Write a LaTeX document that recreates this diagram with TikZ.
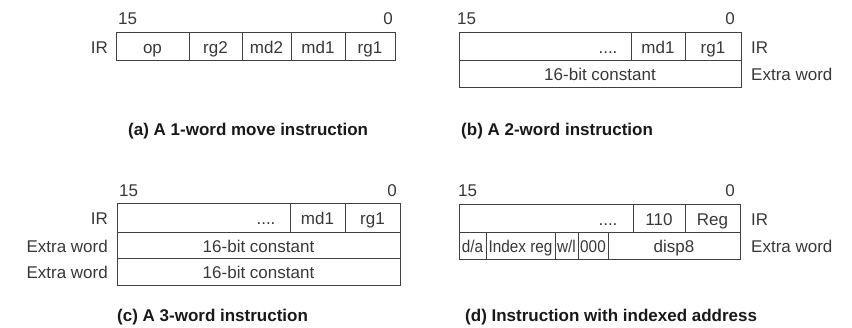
\documentclass[tikz,border=0pt]{standalone}
\usepackage{fontspec}
\setmainfont{Liberation Sans}
\definecolor{textgray}{gray}{0.22}
\definecolor{linegray}{gray}{0.25}
\newcommand\lblfont{\fontsize{17}{20}\selectfont}
\newcommand\capfont{\fontsize{17}{20}\selectfont\bfseries}
\newcommand\cellbox[6]{\node[cell,minimum width={#4-#2},minimum height={#5-#3}] (#1) at ({(#2+#4)/2},{(#3+#5)/2}) {#6};}
\newcommand\narrow[1]{\scalebox{0.9}[1]{#1}}
\begin{document}
\begin{tikzpicture}[x=1pt,y=-1pt,
  cell/.style={draw=linegray, line width=0.9pt, inner sep=0pt, text=textgray, font=\lblfont, text height=14pt, text depth=0pt},
  lab/.style={inner sep=0pt, text=textgray, font=\lblfont, anchor=base},
  captext/.style={inner sep=0pt, text=black!90, font=\capfont, anchor=base west}]
\useasboundingbox (0,0) rectangle (852,327);
% (a)
\cellbox{aop}{116}{32}{189}{60}{op}
\cellbox{arg2}{189}{32}{242}{60}{rg2}
\cellbox{amd2}{242}{32}{291}{60}{md2}
\cellbox{amd1}{291}{32}{345}{60}{md1}
\cellbox{arg1}{345}{32}{395}{60}{rg1}
\node[lab,anchor=base east] (air) at (108,53) {IR};
\node[lab,anchor=base west] (a15) at (118,24.5) {15};
\node[lab,anchor=base east] (a0) at (393,24.5) {0};
\node[captext] (acap) at (128,135) {(a) A 1-word move instruction};
% (b)
\cellbox{bfill}{459}{32}{631}{60}{}
\cellbox{bmd1}{631}{32}{685}{60}{md1}
\cellbox{brg1}{685}{32}{741}{60}{rg1}
\cellbox{bconst}{459}{60}{741}{87}{16-bit constant}
\node[lab] (bdots) at (608,53) {....};
\node[lab,anchor=base west] (bir) at (751,53) {IR};
\node[lab,anchor=base west] (bex) at (751,80.5) {Extra word};
\node[lab,anchor=base west] (b15) at (457,24.5) {15};
\node[lab,anchor=base east] (b0) at (735,24.5) {0};
\node[captext] (bcap) at (461,135) {(b) A 2-word instruction};
% (c)
\cellbox{cfill}{117}{203}{290}{232}{}
\cellbox{cmd1}{290}{203}{345}{232}{md1}
\cellbox{crg1}{345}{203}{400}{232}{rg1}
\cellbox{cconsta}{117}{232}{400}{258}{16-bit constant}
\cellbox{cconstb}{117}{258}{400}{285}{16-bit constant}
\node[lab] (cdots) at (266,224.5) {....};
\node[lab,anchor=base east] (cir) at (108,224.5) {IR};
\node[lab,anchor=base east] (cexa) at (108,252) {Extra word};
\node[lab,anchor=base east] (cexb) at (108,278.5) {Extra word};
\node[lab,anchor=base west] (c15) at (119,196) {15};
\node[lab,anchor=base east] (c0) at (397,196) {0};
\node[captext] (ccap) at (117,321) {(c) A 3-word instruction};
% (d)
\cellbox{dfill}{459}{204}{633}{232}{}
\cellbox{d110}{633}{204}{685}{232}{110}
\cellbox{dreg}{685}{204}{740}{232}{Reg}
\cellbox{dda}{459}{232}{486}{259}{\narrow{d/a}}
\cellbox{dix}{486}{232}{555}{259}{\narrow{Index reg}}
\cellbox{dwl}{555}{232}{578}{259}{\narrow{w/l}}
\cellbox{dzero}{578}{232}{608}{259}{\narrow{000}}
\cellbox{ddisp}{608}{232}{740}{259}{disp8}
\node[lab] (ddots) at (608,225) {....};
\node[lab,anchor=base west] (dir) at (751,225) {IR};
\node[lab,anchor=base west] (dex) at (751,252.5) {Extra word};
\node[lab,anchor=base west] (d15) at (458,196) {15};
\node[lab,anchor=base east] (d0) at (735,196) {0};
\node[captext] (dcap) at (465,321) {(d) Instruction with indexed address};
\end{tikzpicture}
\end{document}
